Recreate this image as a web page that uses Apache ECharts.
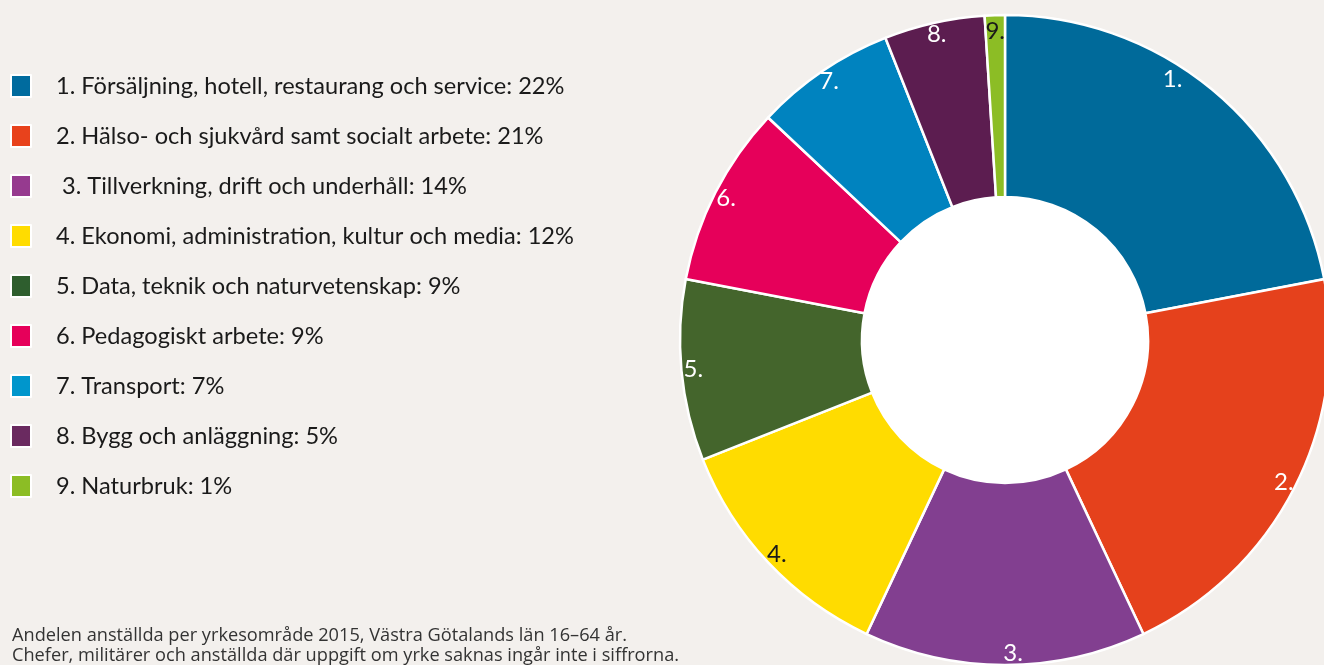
<!DOCTYPE html>
<html>
<head>
<meta charset="utf-8">
<script src="https://cdn.jsdelivr.net/npm/echarts@6/dist/echarts.min.js"></script>
<style>
html,body{margin:0;padding:0;background:#f3f0ed;}
#chart{width:1324px;height:665px;}
</style>
</head>
<body>
<div id="chart"></div>
<script>
const categories = [
  "Försäljning, hotell, restaurang och service",
  "Hälso- och sjukvård samt socialt arbete",
  "Tillverkning, drift och underhåll",
  "Ekonomi, administration, kultur och media",
  "Data, teknik och naturvetenskap",
  "Pedagogiskt arbete",
  "Transport",
  "Bygg och anläggning",
  "Naturbruk"
];
const values = [22, 21, 14, 12, 9, 9, 7, 5, 1];
const sliceColors = ["#006a9a", "#e5411c", "#823f90", "#ffdc00", "#44652c", "#e6005a", "#0083bf", "#5c1d50", "#8cbd25"];
const legendColors = ["#006b9e", "#e8421c", "#963a8f", "#ffdc00", "#2e5e2e", "#e6005a", "#0096cc", "#6a2a60", "#8cbd25"];
const darkLabelIdx = [3, 8];
const footnote = "Andelen anställda per yrkesområde 2015, Västra Götalands län 16–64 år.\nChefer, militärer och anställda där uppgift om yrke saknas ingår inte i siffrorna.";

const names = categories.map((c, i) => (i === 2 ? " " : "") + (i + 1) + ". " + c + ": " + values[i] + "%");

const chart = echarts.init(document.getElementById('chart'));
const pieData = names.map((n, i) => ({ name: n, value: values[i], itemStyle: { color: sliceColors[i] } }));
const labelData = names.map((n, i) => {
  const lbl = { color: darkLabelIdx.includes(i) ? "#1a1a1a" : "#ffffff" };
  if (i === 0) lbl.offset = [-32, -20];
  if (i === 2) lbl.offset = [8, 0];
  if (i === 8) lbl.offset = [0, 4];
  return { name: n, value: values[i], label: lbl };
});

chart.setOption({
  backgroundColor: "#f3f0ed",
  animation: false,
  title: {
    text: footnote,
    left: 7, top: 621,
    textStyle: { fontFamily: "Open Sans", fontSize: 18.2, fontWeight: "normal", color: "#333333", lineHeight: 20 }
  },
  legend: {
    orient: "vertical",
    left: 10, top: 74,
    padding: 0,
    itemWidth: 20, itemHeight: 22, itemGap: 26,
    icon: "rect",
    selectedMode: false,
    data: names.map((n, i) => ({ name: n, itemStyle: { color: legendColors[i] } })),
    textStyle: { fontFamily: "Lato", fontSize: 23.6, color: "#1a1a1a", padding: [0, 0, 0, 20] }
  },
  series: [
    {
      type: "pie", center: [1005, 340], radius: [0, 143], silent: true,
      label: { show: false }, labelLine: { show: false }, legendHoverLink: false,
      data: [{ value: 1, name: "", itemStyle: { color: "#ffffff" } }],
      tooltip: { show: false }
    },
    {
      type: "pie", center: [1005, 340], radius: [143, 325], startAngle: 90, clockwise: true,
      silent: true,
      itemStyle: { borderColor: "#ffffff", borderWidth: 2.5 },
      label: { show: false }, labelLine: { show: false },
      data: pieData
    },
    {
      type: "pie", center: [1005, 340], radius: [294, 326], startAngle: 90, clockwise: true,
      silent: true,
      itemStyle: { color: "transparent", borderWidth: 0 },
      label: {
        show: true, position: "inside", fontFamily: "Lato", fontWeight: "normal", fontSize: 24,
        formatter: p => (p.dataIndex + 1) + "."
      },
      labelLine: { show: false },
      data: labelData
    }
  ]
});
</script>
</body>
</html>
